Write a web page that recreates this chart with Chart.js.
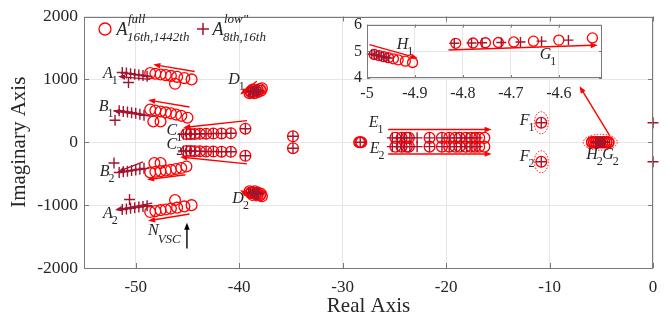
<!DOCTYPE html>
<html><head><meta charset="utf-8">
<script src="https://cdn.jsdelivr.net/npm/chart.js@4.4.1/dist/chart.umd.min.js"></script>
<style>
html,body{margin:0;padding:0;background:#fff;}
#wrap{position:relative;width:669px;height:322px;overflow:hidden;}
#main{position:absolute;left:0;top:0;width:669px;height:322px;}
#inset{position:absolute;left:340px;top:10px;width:270px;height:95px;}
</style></head><body>
<div id="wrap"><canvas id="main" width="669" height="322"></canvas><canvas id="inset" width="270" height="95"></canvas></div>
<script>
// ---------- DATA (real part, imaginary part) ----------
// "full" model poles (circles)
const fullA1 = [[-48.6,1100],[-48.1,1090],[-47.6,1078],[-47.1,1068],[-46.6,1055],[-46.0,1040],[-45.3,1020],[-44.6,1000],[-46.2,930]];
const fullB1 = [[-48.6,520],[-48.1,505],[-47.6,490],[-47.1,475],[-46.6,460],[-46.1,440],[-45.6,420],[-45.0,390],[-48.3,330],[-47.6,330]];
const fullC1 = [[-45.1,130],[-44.7,130],[-44.3,132],[-43.8,134],[-43.2,136],[-42.5,138],[-41.7,140],[-40.8,142],[-39.4,215]];
const fullC2 = [[-45.1,-140],[-44.7,-140],[-44.3,-142],[-43.8,-144],[-43.2,-146],[-42.5,-148],[-41.7,-150],[-40.8,-152],[-39.4,-215]];
const fullD1 = [[-39.0,780],[-38.8,795],[-38.6,805],[-38.4,815],[-38.2,830],[-38.0,845],[-37.8,860],[-38.9,805],[-38.5,780],[-38.2,800],[-37.9,820],[-38.7,840]];
const fullD2 = [[-39.0,-780],[-38.8,-795],[-38.6,-805],[-38.4,-815],[-38.2,-830],[-38.0,-845],[-37.8,-860],[-38.9,-805],[-38.5,-780],[-38.2,-800],[-37.9,-820],[-38.7,-840]];
const fullB2 = [[-48.6,-480],[-48.1,-470],[-47.6,-460],[-47.1,-450],[-46.6,-440],[-46.1,-425],[-45.6,-410],[-45.1,-385],[-48.2,-330],[-47.6,-330]];
const fullA2 = [[-48.6,-1110],[-48.1,-1095],[-47.6,-1080],[-47.1,-1070],[-46.6,-1055],[-46.0,-1040],[-45.3,-1020],[-44.6,-1000],[-46.2,-920]];
const fullMid = [[-34.8,95],[-34.8,-95],[-28.4,0],[-28.3,0],[-28.2,0]];
const fullE1 = [[-24.9,70],[-24.3,70],[-23.8,70],[-23.6,70],[-21.6,70],[-20.4,70],[-19.7,70],[-19.1,70],[-18.7,70],[-18.1,70],[-17.6,70],[-17.2,70],[-16.8,70],[-16.3,70]];
const fullE2 = [[-24.9,-70],[-24.3,-70],[-23.8,-70],[-23.6,-70],[-21.6,-70],[-20.4,-70],[-19.7,-70],[-19.1,-70],[-18.7,-70],[-18.1,-70],[-17.6,-70],[-17.2,-70],[-16.8,-70],[-16.3,-70]];
const fullF = [[-10.8,310],[-10.8,-310]];
const fullHG = [[-5.9,5],[-5.7,5],[-5.5,5],[-5.3,5],[-5.1,5],[-4.9,5],[-4.7,5],[-4.5,5],[-4.3,5],[-5.9,-5],[-5.7,-5],[-5.5,-5],[-5.3,-5],[-5.1,-5],[-4.9,-5],[-4.7,-5],[-4.5,-5],[-4.3,-5]];
// "low" model poles (crosses)
const lowA1 = [[-51.3,1110],[-50.9,1100],[-50.5,1090],[-50.1,1080],[-49.7,1070],[-49.3,1060],[-48.9,1050],[-50.7,950]];
const lowB1 = [[-51.6,500],[-51.2,490],[-50.8,480],[-50.4,470],[-50.0,460],[-49.6,445],[-49.2,430],[-52.0,350]];
const lowC1 = [[-45.4,128],[-45.1,130],[-44.7,130],[-44.3,132],[-43.8,134],[-43.2,136],[-42.5,138],[-41.7,140],[-40.8,142],[-39.4,215]];
const lowC2 = [[-45.4,-138],[-45.1,-140],[-44.7,-140],[-44.3,-142],[-43.8,-144],[-43.2,-146],[-42.5,-148],[-41.7,-150],[-40.8,-152],[-39.4,-215]];
const lowD1 = [[-39.1,800],[-38.9,810],[-38.7,815],[-38.5,825],[-38.3,830],[-38.6,790],[-38.3,800],[-38.1,815]];
const lowD2 = [[-39.1,-800],[-38.9,-810],[-38.7,-815],[-38.5,-825],[-38.3,-830],[-38.6,-790],[-38.3,-800],[-38.1,-815]];
const lowB2 = [[-51.6,-480],[-51.2,-470],[-50.8,-460],[-50.4,-450],[-50.0,-440],[-49.6,-430],[-49.2,-415],[-52.1,-330]];
const lowA2 = [[-51.3,-1070],[-50.9,-1060],[-50.5,-1050],[-50.1,-1040],[-49.7,-1030],[-49.3,-1020],[-48.9,-1010],[-50.6,-910]];
const lowMid = [[-34.8,95],[-34.8,-95],[-28.3,0]];
const lowE1 = [[-25.2,70],[-24.7,70],[-24.3,70],[-24.0,70],[-23.5,70],[-22.8,70],[-21.6,70],[-20.4,70],[-19.7,70],[-19.0,70],[-18.5,70],[-18.0,70],[-17.5,70],[-17.0,70]];
const lowE2 = [[-25.2,-70],[-24.7,-70],[-24.3,-70],[-24.0,-70],[-23.5,-70],[-22.8,-70],[-21.6,-70],[-20.4,-70],[-19.7,-70],[-19.0,-70],[-18.5,-70],[-18.0,-70],[-17.5,-70],[-17.0,-70]];
const lowF = [[-10.8,310],[-10.8,-310]];
const lowEdge = [[0,310],[0,-310]];
const lowHG = [[-5.5,5],[-5.3,5],[-5.1,5],[-4.9,5],[-4.7,5],[-5.5,-5],[-5.3,-5],[-5.1,-5],[-4.9,-5],[-4.7,-5]];
// inset (zoom on H1 / G1)
const insetFullH1 = [[-4.985,4.88],[-4.975,4.84],[-4.965,4.80],[-4.955,4.76],[-4.945,4.72],[-4.935,4.68],[-4.92,4.63],[-4.905,4.58]];
const insetLowH1 = [[-4.99,4.90],[-4.985,4.87],[-4.98,4.85],[-4.975,4.83],[-4.97,4.81],[-4.965,4.79],[-4.96,4.77],[-4.955,4.75]];
const insetFullG1 = [[-4.815,5.30],[-4.779,5.31],[-4.753,5.32],[-4.726,5.33],[-4.694,5.35],[-4.653,5.38],[-4.600,5.42],[-4.530,5.50]];
const insetLowG1 = [[-4.818,5.30],[-4.782,5.31],[-4.76,5.32],[-4.72,5.33],[-4.68,5.35],[-4.636,5.38],[-4.58,5.42]];
// tick labels
const xTicks = [-50,-40,-30,-20,-10,0];
const yTicks = [-2000,-1000,0,1000,2000];
const insetXTicks = [-5,-4.9,-4.8,-4.7,-4.6];
const insetYTicks = [4,5,6];

// ---------- STYLE ----------
const C_FULL = '#ff0000';
const C_LOW = '#a2142f';
const GRID = '#e6e6e6';
const AXIS = '#7a7a7a';
const TXT = '#262626';
const SERIF = '"Liberation Serif","Times New Roman",serif';

// annotations (data coordinates)
const arrowsMain = [
  {f:[-44.3,1125], t:[-48.3,1235], c:C_FULL},
  {f:[-48.6,1000], t:[-51.7,1047], c:C_LOW},
  {f:[-44.8,560], t:[-48.8,670], c:C_FULL},
  {f:[-48.3,410], t:[-52.2,500], c:C_LOW},
  {f:[-39.25,344], t:[-45.4,234], c:C_FULL},
  {f:[-39.25,-344], t:[-45.7,-234], c:C_FULL},
  {f:[-38.3,969], t:[-39.9,760], c:C_FULL},
  {f:[-38.3,-938], t:[-39.9,-760], c:C_FULL},
  {f:[-45.2,-516], t:[-48.9,-594], c:C_FULL},
  {f:[-49.3,-312], t:[-51.7,-469], c:C_LOW},
  {f:[-44.8,-1141], t:[-48.8,-1250], c:C_FULL},
  {f:[-48.4,-969], t:[-52.0,-1078], c:C_LOW},
  {f:[-25.6,203], t:[-15.6,203], c:C_FULL},
  {f:[-25.6,-188], t:[-15.6,-188], c:C_FULL},
  {f:[-45.05,-1690], t:[-45.05,-1282], c:'#000000'},
  {f:[-4.2,109], t:[-7.1,891], c:C_FULL}
];
const labelsMain = [
  {p:[-52.7,1094], m:'A', s:'1'}, {p:[-53.1,563], m:'B', s:'1'},
  {p:[-46.5,188], m:'C', s:'1'}, {p:[-46.5,-47], m:'C', s:'2'},
  {p:[-40.5,1000], m:'D', s:'1'}, {p:[-40.1,-906], m:'D', s:'2'},
  {p:[-53.0,-469], m:'B', s:'2'}, {p:[-52.7,-1141], m:'A', s:'2'},
  {p:[-27.0,313], m:'E', s:'1'}, {p:[-26.9,-109], m:'E', s:'2'},
  {p:[-12.4,344], m:'F', s:'1'}, {p:[-12.4,-234], m:'F', s:'2'},
  {p:[-5.9,-203], m:'H', s:'2'}, {p:[-4.35,-203], m:'G', s:'2'},
  {p:[-48.3,-1406], m:'N', s:'VSC'}
];
const ellipsesMain = [
  {c:[-10.8,310], rx:7, ry:11}, {c:[-10.8,-310], rx:7, ry:11}, {c:[-5.1,0], rx:17, ry:8}
];
const arrowsInset = [
  {f:[-4.995,5.25], t:[-4.894,4.74], c:C_FULL},
  {f:[-4.83,5.05], t:[-4.519,5.23], c:C_FULL}
];
const labelsInset = [
  {p:[-4.926,5.23], m:'H', s:'1'}, {p:[-4.628,4.88], m:'G', s:'1'}
];

// ---------- helpers ----------
const pts = arr => arr.map(p => ({x:p[0], y:p[1]}));
function circleSet(arr, r){
  return {data:pts(arr), pointStyle:'circle', pointRadius:r, borderColor:C_FULL, pointBorderColor:C_FULL,
    backgroundColor:'rgba(0,0,0,0)', pointBackgroundColor:'rgba(0,0,0,0)', pointBorderWidth:1.3, showLine:false, clip:false};
}
function crossSet(arr, r){
  return {data:pts(arr), pointStyle:'cross', pointRadius:r, borderColor:C_LOW, pointBorderColor:C_LOW,
    pointBorderWidth:1.4, showLine:false, clip:false};
}
function arrow(ctx, x1, y1, x2, y2, color){
  const a = Math.atan2(y2-y1, x2-x1), L = 7, W = 2.8;
  ctx.strokeStyle = color; ctx.fillStyle = color; ctx.lineWidth = 1.4; ctx.setLineDash([]);
  ctx.beginPath(); ctx.moveTo(x1,y1); ctx.lineTo(x2 - L*0.7*Math.cos(a), y2 - L*0.7*Math.sin(a)); ctx.stroke();
  ctx.beginPath(); ctx.moveTo(x2,y2);
  ctx.lineTo(x2 - L*Math.cos(a) + W*Math.sin(a), y2 - L*Math.sin(a) - W*Math.cos(a));
  ctx.lineTo(x2 - L*Math.cos(a) - W*Math.sin(a), y2 - L*Math.sin(a) + W*Math.cos(a));
  ctx.closePath(); ctx.fill();
}
function label(ctx, x, y, m, s, big, small){
  ctx.fillStyle = TXT; ctx.textBaseline = 'middle';
  ctx.font = 'italic ' + big + 'px ' + SERIF; ctx.textAlign = 'center';
  ctx.fillText(m, x, y);
  const w = ctx.measureText(m).width;
  ctx.font = (s === 'VSC' ? 'italic ' : '') + small + 'px ' + SERIF; ctx.textAlign = 'left';
  ctx.fillText(s, x + w/2 - 1, y + (s === 'VSC' ? 9 : 7));
}
function box(ctx, a){
  ctx.strokeStyle = AXIS; ctx.lineWidth = 1; ctx.setLineDash([]);
  ctx.strokeRect(Math.round(a.left)+0.5, Math.round(a.top)+0.5, Math.round(a.right-a.left)-1, Math.round(a.bottom-a.top)-1);
}
function inTicks(ctx, a, xs, ys, sx, sy, len){
  ctx.strokeStyle = AXIS; ctx.lineWidth = 1; ctx.beginPath();
  xs.forEach(v => { const px = Math.round(sx.getPixelForValue(v))+0.5;
    ctx.moveTo(px, a.bottom); ctx.lineTo(px, a.bottom-len); ctx.moveTo(px, a.top); ctx.lineTo(px, a.top+len); });
  ys.forEach(v => { const py = Math.round(sy.getPixelForValue(v))+0.5;
    ctx.moveTo(a.left, py); ctx.lineTo(a.left+len, py); ctx.moveTo(a.right, py); ctx.lineTo(a.right-len, py); });
  ctx.stroke();
}

const overlayMain = {
  id:'overlayMain',
  afterDraw(chart){
    const {ctx, chartArea:a, scales:{x, y}} = chart;
    ctx.save();
    box(ctx, a);
    inTicks(ctx, a, xTicks, yTicks, x, y, 5);
    ctx.strokeStyle = C_FULL; ctx.lineWidth = 1; ctx.setLineDash([1.5,1.5]);
    ellipsesMain.forEach(e => { ctx.beginPath();
      ctx.ellipse(x.getPixelForValue(e.c[0]), y.getPixelForValue(e.c[1]), e.rx, e.ry, 0, 0, Math.PI*2); ctx.stroke(); });
    ctx.setLineDash([]);
    arrowsMain.forEach(r => arrow(ctx, x.getPixelForValue(r.f[0]), y.getPixelForValue(r.f[1]),
      x.getPixelForValue(r.t[0]), y.getPixelForValue(r.t[1]), r.c));
    labelsMain.forEach(l => label(ctx, x.getPixelForValue(l.p[0]), y.getPixelForValue(l.p[1]), l.m, l.s, 16, l.s === 'VSC' ? 13 : 12));
    // legend
    ctx.lineWidth = 1.3; ctx.strokeStyle = C_FULL;
    ctx.beginPath(); ctx.arc(105, 29, 6, 0, Math.PI*2); ctx.stroke();
    ctx.strokeStyle = C_LOW; ctx.lineWidth = 1.5;
    ctx.beginPath(); ctx.moveTo(197,29); ctx.lineTo(209,29); ctx.moveTo(203,23); ctx.lineTo(203,35); ctx.stroke();
    ctx.fillStyle = TXT; ctx.textBaseline = 'middle';
    ctx.font = 'italic 18px ' + SERIF; ctx.textAlign = 'center';
    ctx.fillText('A', 122, 30); ctx.fillText('A', 218, 30);
    ctx.font = 'italic 13px ' + SERIF; ctx.textAlign = 'left';
    ctx.fillText('full', 128, 20); ctx.fillText('16th,1442th', 127, 38);
    ctx.fillText('low"', 224, 20); ctx.fillText('8th,16th', 223, 38);
    ctx.restore();
  }
};

new Chart(document.getElementById('main'), {
  type:'scatter',
  data:{datasets:[
    crossSet([].concat(lowA1, lowB1, lowC1, lowC2, lowD1, lowD2, lowB2, lowA2, lowMid, lowE1, lowE2, lowF, lowEdge, lowHG), 5.5),
    circleSet([].concat(fullA1, fullB1, fullC1, fullC2, fullD1, fullD2, fullB2, fullA2, fullMid, fullE1, fullE2, fullF, fullHG), 5.4)
  ]},
  options:{
    responsive:false, animation:false, events:[],
    layout:{padding:{left:0, top:14, right:16, bottom:0}},
    plugins:{legend:{display:false}, tooltip:{enabled:false}},
    scales:{
      x:{type:'linear', min:-55, max:0,
        afterBuildTicks(s){ s.ticks = xTicks.map(v => ({value:v})); },
        afterFit(s){ s.height = 54; },
        grid:{color:GRID, drawTicks:false}, border:{display:false},
        ticks:{padding:9, color:TXT, font:{family:SERIF, size:17}, maxRotation:0, autoSkip:false, callback:v => String(v)},
        title:{display:true, text:'Real Axis', color:TXT, font:{family:SERIF, size:21}, padding:{top:0, bottom:3}}
      },
      y:{type:'linear', min:-2000, max:2000,
        afterBuildTicks(s){ s.ticks = yTicks.map(v => ({value:v})); },
        afterFit(s){ s.width = 84; },
        grid:{color:GRID, drawTicks:false}, border:{display:false},
        ticks:{padding:6, color:TXT, font:{family:SERIF, size:17.5}, autoSkip:false, callback:v => String(v)},
        title:{display:true, text:'Imaginary Axis', color:TXT, font:{family:SERIF, size:21}, padding:{top:7, bottom:0}}
      }
    }
  },
  plugins:[overlayMain]
});

// ---------- INSET ----------
const insetBg = {
  id:'insetBg',
  beforeDraw(chart){
    const {ctx, chartArea:a} = chart;
    ctx.save(); ctx.fillStyle = '#ffffff';
    ctx.fillRect(a.left, a.top, a.right-a.left, a.bottom-a.top); ctx.restore();
  },
  afterDraw(chart){
    const {ctx, chartArea:a, scales:{x, y}} = chart;
    ctx.save();
    box(ctx, a);
    inTicks(ctx, a, insetXTicks, insetYTicks, x, y, 3);
    arrowsInset.forEach(r => arrow(ctx, x.getPixelForValue(r.f[0]), y.getPixelForValue(r.f[1]),
      x.getPixelForValue(r.t[0]), y.getPixelForValue(r.t[1]), r.c));
    labelsInset.forEach(l => label(ctx, x.getPixelForValue(l.p[0]), y.getPixelForValue(l.p[1]), l.m, l.s, 16, 12));
    ctx.restore();
  }
};
new Chart(document.getElementById('inset'), {
  type:'scatter',
  data:{datasets:[
    crossSet([].concat(insetLowH1, insetLowG1), 5),
    circleSet([].concat(insetFullH1, insetFullG1), 5)
  ]},
  options:{
    responsive:false, animation:false, events:[],
    layout:{padding:{left:0, top:11, right:8, bottom:0}},
    plugins:{legend:{display:false}, tooltip:{enabled:false}},
    scales:{
      x:{type:'linear', min:-5, max:-4.51,
        afterBuildTicks(s){ s.ticks = insetXTicks.map(v => ({value:v})); },
        afterFit(s){ s.height = 27; },
        grid:{color:GRID, drawTicks:false}, border:{display:false},
        ticks:{padding:6, color:TXT, font:{family:SERIF, size:16}, maxRotation:0, autoSkip:false,
          callback:v => String(Math.round(v*10)/10)}
      },
      y:{type:'linear', min:4, max:6,
        afterBuildTicks(s){ s.ticks = insetYTicks.map(v => ({value:v})); },
        afterFit(s){ s.width = 27; },
        grid:{color:GRID, drawTicks:false}, border:{display:false},
        ticks:{padding:5, color:TXT, font:{family:SERIF, size:16}, autoSkip:false, callback:v => String(v)}
      }
    }
  },
  plugins:[insetBg]
});
</script>
</body></html>
